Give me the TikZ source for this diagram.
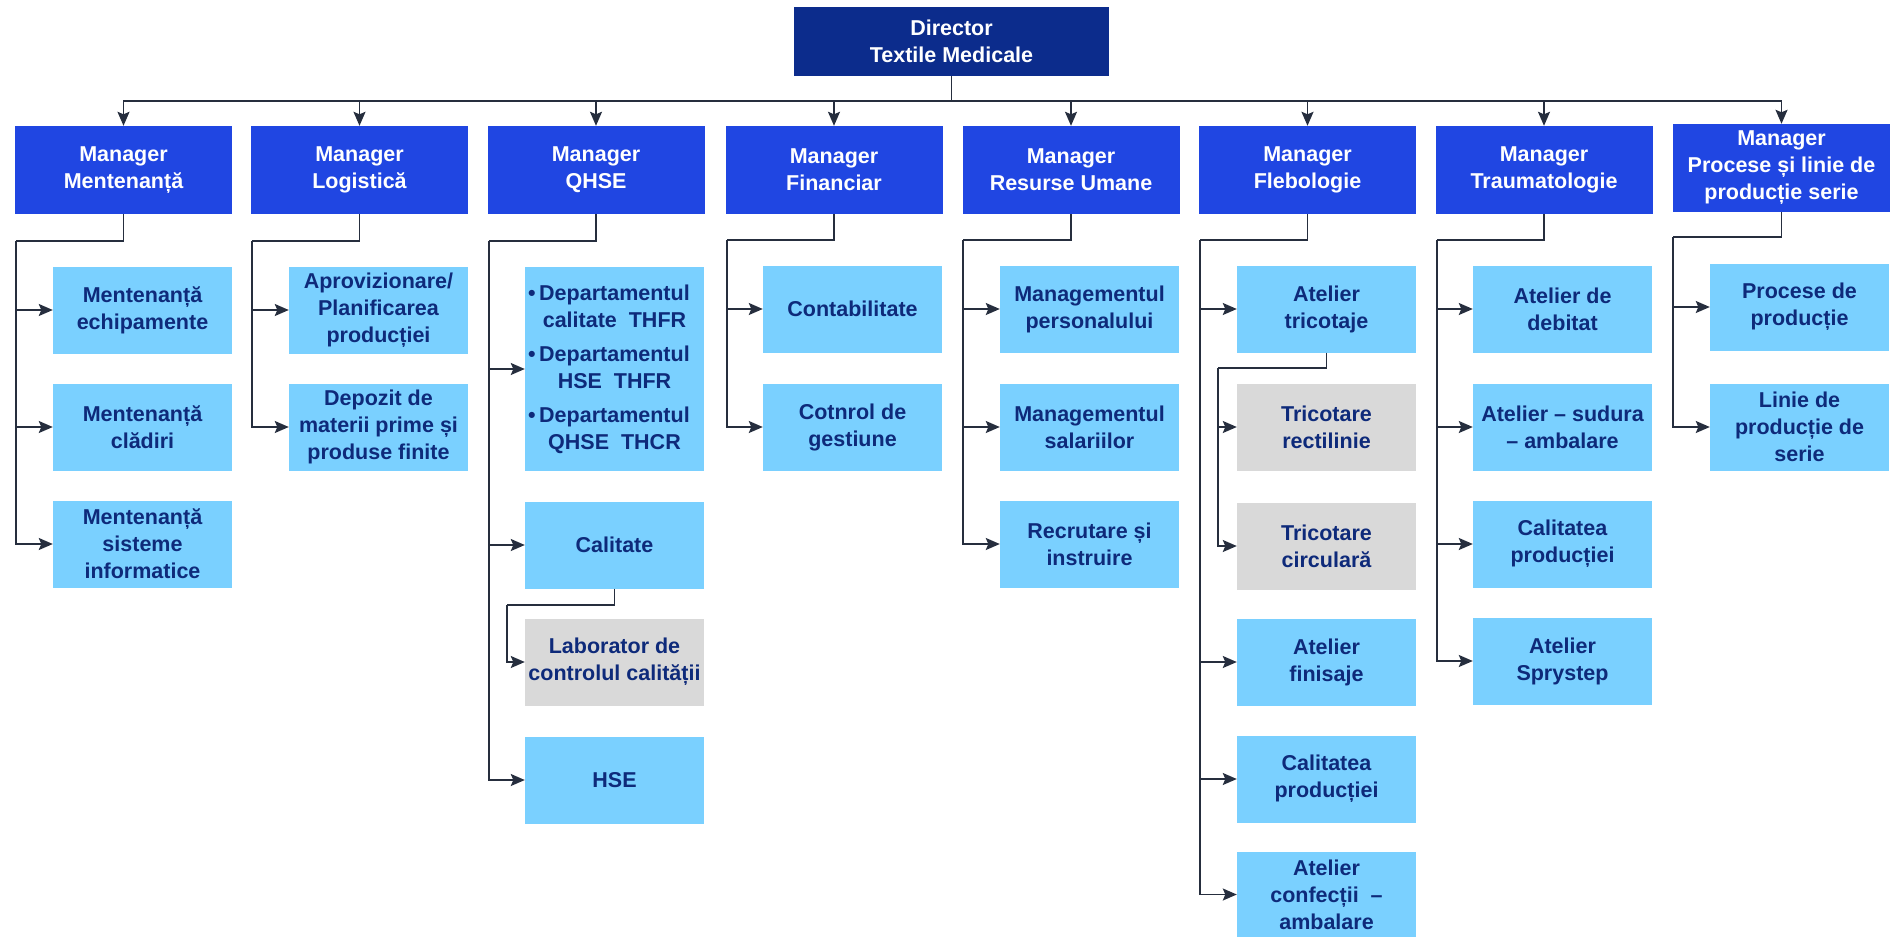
\documentclass[tikz,border=0pt]{standalone}
\usepackage{fontspec}
\setmainfont{Liberation Sans}
\usetikzlibrary{arrows.meta}
\definecolor{dirblue}{RGB}{12,44,140}
\definecolor{mgrblue}{RGB}{32,70,226}
\definecolor{subblue}{RGB}{122,208,255}
\definecolor{labgray}{RGB}{217,217,217}
\definecolor{txtnavy}{RGB}{14,42,122}
\definecolor{wire}{RGB}{38,46,62}
\tikzset{
  box/.style={inner sep=0pt, align=center, font=\bfseries\fontsize{21.5}{27}\selectfont},
  dirbox/.style={box, fill=dirblue, text=white, minimum width=315pt, minimum height=69pt},
  mgrbox/.style={box, fill=mgrblue, text=white, minimum width=217pt, minimum height=88pt},
  subbox/.style={box, fill=subblue, text=txtnavy, minimum width=179pt, minimum height=87pt},
  labbox/.style={subbox, fill=labgray},
  wireline/.style={draw=wire, line width=1.7pt},
}
\begin{document}
\begin{tikzpicture}[x=1pt, y=-1pt, >={Stealth[length=14pt,width=12pt,inset=2.5pt]}]
\useasboundingbox (0,0) rectangle (1896,937);
% top
\node[dirbox] (dir) at (951.5,41.5) {Director\\Textile Medicale};
% managers
\node[mgrbox] (mmnt) at (123.5,170) {Manager\\Mentenanță};
\node[mgrbox] (mlog) at (359.5,170) {Manager\\Logistică};
\node[mgrbox] (mqhse) at (596,170) {Manager\\QHSE};
\node[mgrbox] (mfin) at (834,170) {Manager\\Financiar};
\node[mgrbox] (mhr) at (1071,170) {Manager\\Resurse Umane};
\node[mgrbox] (mfleb) at (1307.5,170) {Manager\\Flebologie};
\node[mgrbox] (mtrau) at (1544,170) {Manager\\Traumatologie};
\node[mgrbox] (mproc) at (1781.5,168) {Manager\\Procese și linie de\\producție serie};
% bus
\coordinate (bus) at (951.5,101);
\draw[wireline] (dir) -- (bus);
\draw[wireline,->] (bus) -| (mmnt);
\draw[wireline,->] (bus) -| (mlog);
\draw[wireline,->] (bus) -| (mqhse);
\draw[wireline,->] (bus) -| (mfin);
\draw[wireline,->] (bus) -| (mhr);
\draw[wireline,->] (bus) -| (mfleb);
\draw[wireline,->] (bus) -| (mtrau);
\draw[wireline,->] (bus) -| (mproc);

% Mentenanta
\node[subbox] (smnt1) at (142.5,310) {Mentenanță\\echipamente};
\node[subbox] (smnt2) at (142.5,427) {Mentenanță\\clădiri};
\node[subbox] (smnt3) at (142.5,544) {Mentenanță\\sisteme\\informatice};
\coordinate (bmnt) at (16,241);
\draw[wireline] (mmnt.south) |- (bmnt);
\draw[wireline,->] (bmnt) |- (smnt1);
\draw[wireline,->] (bmnt) |- (smnt2);
\draw[wireline,->] (bmnt) |- (smnt3);

% Logistica
\node[subbox] (slog1) at (378.5,310) {Aprovizionare/\\Planificarea\\producției};
\node[subbox] (slog2) at (378.5,427) {Depozit de\\materii prime și\\produse finite};
\coordinate (blog) at (252,241);
\draw[wireline] (mlog.south) |- (blog);
\draw[wireline,->] (blog) |- (slog1);
\draw[wireline,->] (blog) |- (slog2);

% QHSE
\node[subbox, minimum height=204pt] (sdep) at (614.5,369)
  {\llap{\textbullet\,}Departamentul\\calitate\ \ THFR\\[7pt]
   \llap{\textbullet\,}Departamentul\\HSE\ \ THFR\\[7pt]
   \llap{\textbullet\,}Departamentul\\QHSE\ \ THCR};
\node[subbox] (scal) at (614.5,545) {Calitate};
\node[labbox] (slab) at (614.5,662) {Laborator de\\controlul\ calității};
\node[subbox] (shse) at (614.5,780) {HSE};
\coordinate (bqhse) at (489,241);
\draw[wireline] (mqhse.south) |- (bqhse);
\draw[wireline,->] (bqhse) |- (sdep);
\draw[wireline,->] (bqhse) |- (scal);
\draw[wireline,->] (bqhse) |- (shse);
\coordinate (bcal) at (507,605);
\draw[wireline] (scal.south) |- (bcal);
\draw[wireline,->] (bcal) |- (slab);

% Financiar
\node[subbox] (sfin1) at (852.5,309) {Contabilitate};
\node[subbox] (sfin2) at (852.5,427) {Cotnrol de\\gestiune};
\coordinate (bfin) at (727,240);
\draw[wireline] (mfin.south) |- (bfin);
\draw[wireline,->] (bfin) |- (sfin1);
\draw[wireline,->] (bfin) |- (sfin2);

% Resurse Umane
\node[subbox] (shr1) at (1089.5,309) {Managementul\\personalului};
\node[subbox] (shr2) at (1089.5,427) {Managementul\\salariilor};
\node[subbox] (shr3) at (1089.5,544) {Recrutare și\\instruire};
\coordinate (bhr) at (963,240);
\draw[wireline] (mhr.south) |- (bhr);
\draw[wireline,->] (bhr) |- (shr1);
\draw[wireline,->] (bhr) |- (shr2);
\draw[wireline,->] (bhr) |- (shr3);

% Flebologie
\node[subbox] (stri) at (1326.5,309) {Atelier\\tricotaje};
\node[labbox] (srect) at (1326.5,427) {Tricotare\\rectilinie};
\node[labbox] (scirc) at (1326.5,546) {Tricotare\\circulară};
\node[subbox] (sfin) at (1326.5,662) {Atelier\\finisaje};
\node[subbox] (scalp) at (1326.5,779) {Calitatea\\producției};
\node[subbox, minimum height=85pt] (sconf) at (1326.5,894.5) {Atelier\\confecții\ \ –\\ambalare};
\coordinate (bfleb) at (1200,240);
\draw[wireline] (mfleb.south) |- (bfleb);
\draw[wireline,->] (bfleb) |- (stri);
\draw[wireline,->] (bfleb) |- (sfin);
\draw[wireline,->] (bfleb) |- (scalp);
\draw[wireline,->] (bfleb) |- (sconf);
\coordinate (btri) at (1218,368);
\draw[wireline] (stri.south) |- (btri);
\draw[wireline,->] (btri) |- (srect);
\draw[wireline,->] (btri) |- (scirc);

% Traumatologie
\node[subbox] (stra1) at (1562.5,309) {Atelier de\\debitat};
\node[subbox] (stra2) at (1562.5,427) {Atelier – sudura\\– ambalare};
\node[subbox] (stra3) at (1562.5,544) {Calitatea\\producției};
\node[subbox] (stra4) at (1562.5,661) {Atelier\\Sprystep};
\coordinate (btrau) at (1437,240);
\draw[wireline] (mtrau.south) |- (btrau);
\draw[wireline,->] (btrau) |- (stra1);
\draw[wireline,->] (btrau) |- (stra2);
\draw[wireline,->] (btrau) |- (stra3);
\draw[wireline,->] (btrau) |- (stra4);

% Procese
\node[subbox] (spro1) at (1799.5,307) {Procese de\\producție};
\node[subbox] (spro2) at (1799.5,427) {Linie de\\producție de\\serie};
\coordinate (bproc) at (1673,237);
\draw[wireline] (mproc.south) |- (bproc);
\draw[wireline,->] (bproc) |- (spro1);
\draw[wireline,->] (bproc) |- (spro2);
\end{tikzpicture}
\end{document}
